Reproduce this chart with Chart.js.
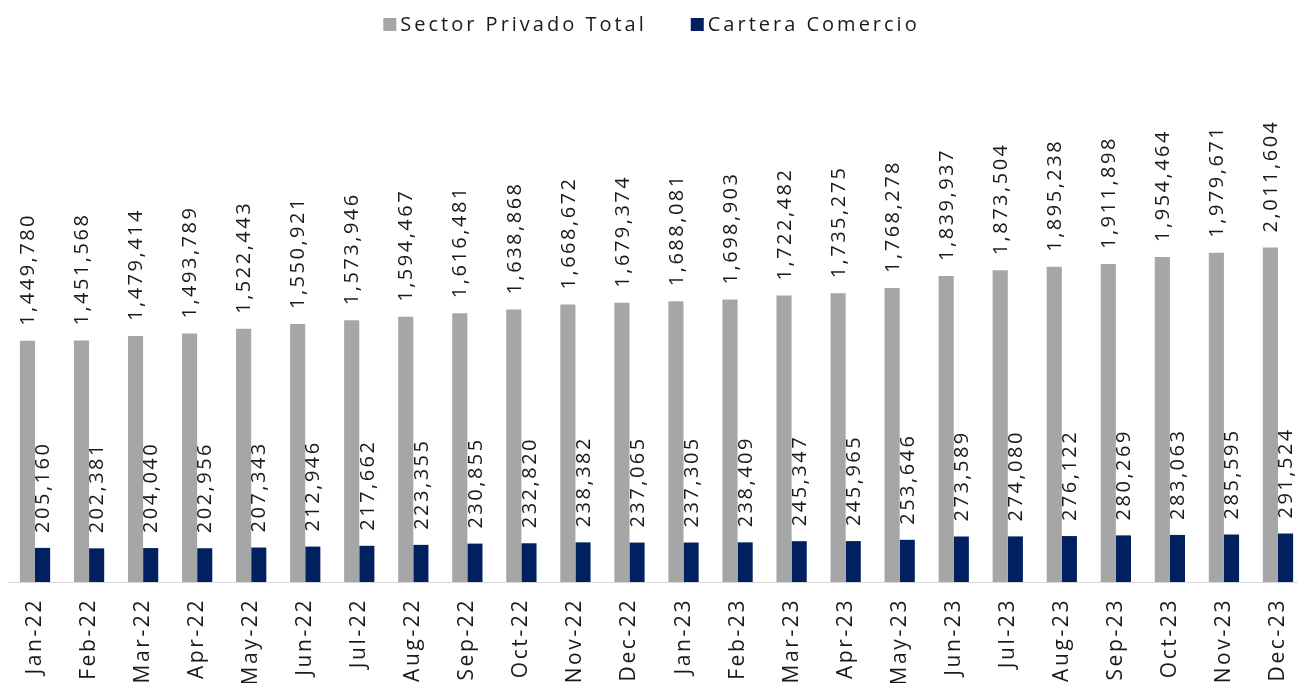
<!DOCTYPE html>
<html>
<head>
<meta charset="utf-8">
<script src="https://cdn.jsdelivr.net/npm/chart.js@4.4.0/dist/chart.umd.min.js"></script>
<style>
  html, body { margin: 0; padding: 0; background: #fff; overflow: hidden; }
  #wrap { width: 1305px; height: 683px; }
</style>
</head>
<body>
<div id="wrap"><canvas id="barChart"></canvas></div>
<script>
var months = ["Jan-22", "Feb-22", "Mar-22", "Apr-22", "May-22", "Jun-22", "Jul-22", "Aug-22",
  "Sep-22", "Oct-22", "Nov-22", "Dec-22", "Jan-23", "Feb-23", "Mar-23", "Apr-23", "May-23",
  "Jun-23", "Jul-23", "Aug-23", "Sep-23", "Oct-23", "Nov-23", "Dec-23"];

var sectorPrivado = [1449780, 1451568, 1479414, 1493789, 1522443, 1550921, 1573946, 1594467,
  1616481, 1638868, 1668672, 1679374, 1688081, 1698903, 1722482, 1735275, 1768278,
  1839937, 1873504, 1895238, 1911898, 1954464, 1979671, 2011604];

var carteraComercio = [205160, 202381, 204040, 202956, 207343, 212946, 217662, 223355,
  230855, 232820, 238382, 237065, 237305, 238409, 245347, 245965, 253646,
  273589, 274080, 276122, 280269, 283063, 285595, 291524];

var FONT = "'Open Sans', sans-serif";

// wide letter spacing for ticks (canvas state resets on resize)
var spacingPlugin = {
  id: "spacing",
  beforeLayout: function (chart) { chart.ctx.letterSpacing = "2.6px"; },
  beforeDraw: function (chart) { chart.ctx.letterSpacing = "2.6px"; }
};

// legend row at the top, centred like the original
var topLegend = {
  id: "topLegend",
  afterDraw: function (chart) {
    var ctx = chart.ctx;
    ctx.save();
    ctx.letterSpacing = "3px";
    ctx.font = "20px " + FONT;
    ctx.textAlign = "left";
    ctx.textBaseline = "middle";
    var items = chart.data.datasets.map(function (ds) {
      return { text: ds.label, color: ds.backgroundColor, w: ctx.measureText(ds.label).width };
    });
    var gap = 45;
    var total = 0;
    items.forEach(function (it, i) { total += 16 + it.w + (i ? gap : 0); });
    var x = 651 - total / 2;
    items.forEach(function (it) {
      ctx.fillStyle = it.color;
      ctx.fillRect(x, 18, 13, 13);
      ctx.fillStyle = "#1a1a1a";
      ctx.fillText(it.text, x + 17, 25);
      x += 16 + it.w + gap;
    });
    ctx.restore();
  }
};

// vertical value labels above each bar, drawn char by char for spacing
var valueLabels = {
  id: "valueLabels",
  afterDatasetsDraw: function (chart) {
    var ctx = chart.ctx;
    ctx.save();
    ctx.letterSpacing = "0px";
    ctx.font = "20px " + FONT;
    ctx.fillStyle = "#1a1a1a";
    ctx.textAlign = "left";
    ctx.textBaseline = "middle";
    chart.data.datasets.forEach(function (ds, i) {
      chart.getDatasetMeta(i).data.forEach(function (bar, j) {
        var txt = ds.data[j].toLocaleString("en-US");
        ctx.save();
        ctx.translate(bar.x + 1, bar.y - 15);
        ctx.rotate(-Math.PI / 2);
        var pos = 0;
        for (var k = 0; k < txt.length; k++) {
          ctx.fillText(txt[k], pos, 0);
          pos += ctx.measureText(txt[k]).width + 2.5;
        }
        ctx.restore();
      });
    });
    ctx.restore();
  }
};

window.onload = function () {
  var ctx = document.getElementById("barChart").getContext("2d");
  new Chart(ctx, {
    type: "bar",
    data: {
      labels: months,
      datasets: [
        {
          label: "Sector Privado Total",
          data: sectorPrivado,
          backgroundColor: "#a6a6a6",
          barPercentage: 1,
          categoryPercentage: 0.56
        },
        {
          label: "Cartera Comercio",
          data: carteraComercio,
          backgroundColor: "#002060",
          barPercentage: 1,
          categoryPercentage: 0.56
        }
      ]
    },
    options: {
      responsive: true,
      maintainAspectRatio: false,
      animation: false,
      layout: { padding: { left: 8, right: 0, top: 83, bottom: 0 } },
      plugins: {
        tooltip: { enabled: false },
        legend: { display: false }
      },
      scales: {
        x: {
          grid: { display: false, drawTicks: false },
          border: { color: "#d9d9d9", width: 1 },
          ticks: {
            font: { family: FONT, size: 21 },
            color: "#1a1a1a",
            minRotation: 90,
            maxRotation: 90,
            padding: 16,
            autoSkip: false
          },
          afterFit: function (scale) {
            scale.height = 101;
            scale.paddingLeft = 0;
            scale.paddingRight = 0;
          }
        },
        y: {
          display: false,
          beginAtZero: true,
          max: 3000000
        }
      }
    },
    plugins: [spacingPlugin, valueLabels, topLegend]
  });
};
</script>
</body>
</html>
